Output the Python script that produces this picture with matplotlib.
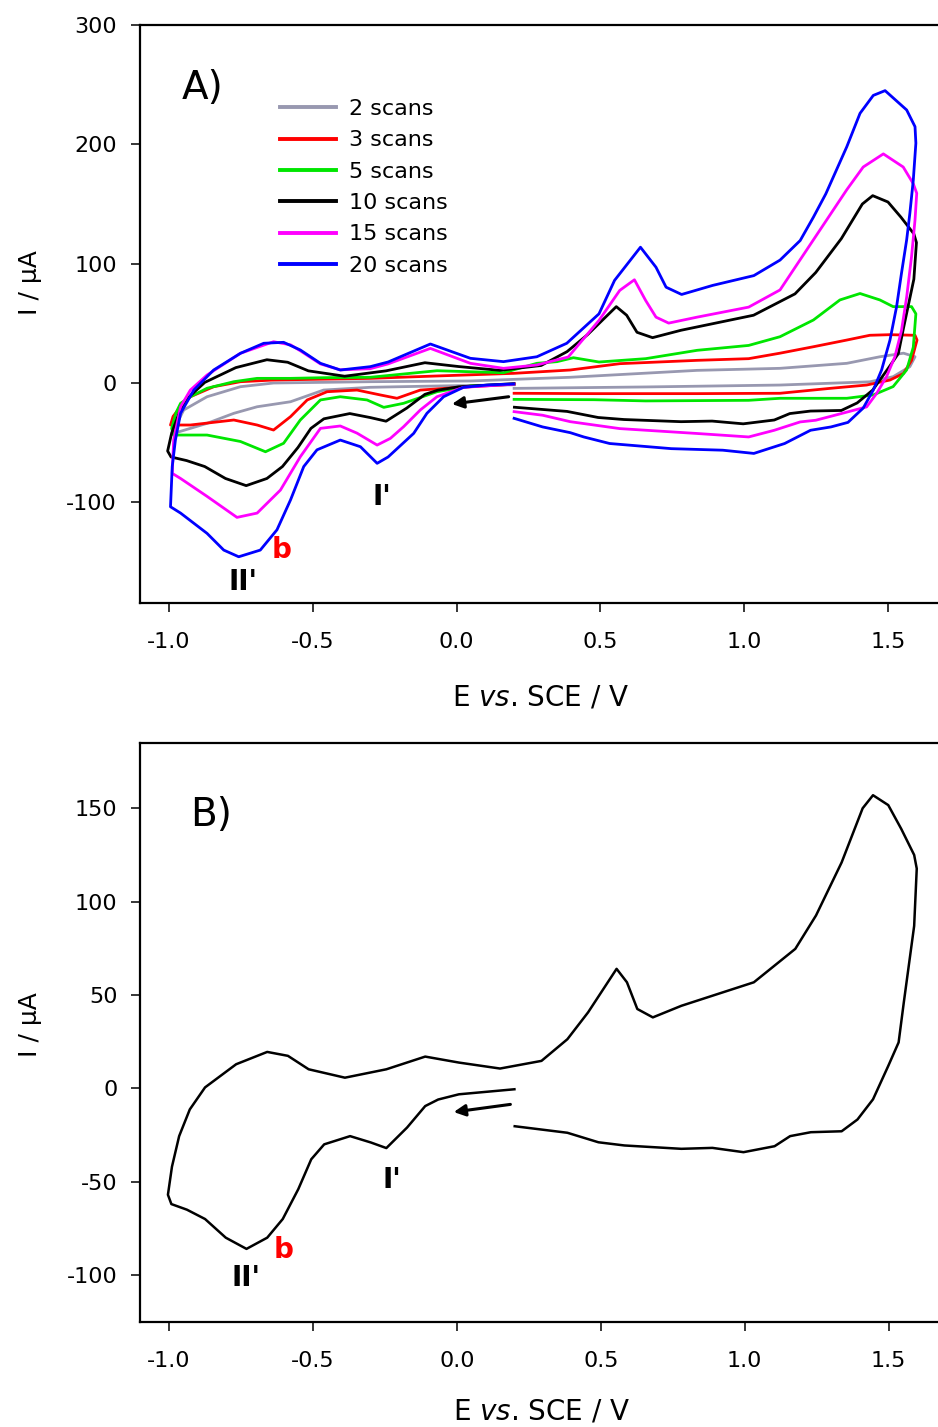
import matplotlib
matplotlib.use("Agg")
import matplotlib.pyplot as plt
from matplotlib.ticker import FormatStrFormatter

plt.rcParams["font.family"] = ["DejaVu Sans"]
plt.rcParams["axes.unicode_minus"] = False

# cyclic voltammograms, start at 0.2 V, scan towards -1.0 V, then to 1.6 V and back
e_2 = [0.2, -0.068, -0.3, -0.462, -0.577, -0.693, -0.774, -0.867, -0.983,
       -0.97, -0.948, -0.867, -0.751, -0.636, -0.3, 0.048, 0.395, 0.836, 1.124, 1.356, 1.471, 1.553, 1.593,
       1.575, 1.517, 1.436, 1.124, 0.657, 0.2]
i_2 = [-1.5, -2.5, -3.6, -5.9, -15.7, -19.9, -25.4, -33.8, -42.2,
       -33, -22.6, -11.5, -3.1, 0, 1.1, 1.7, 4.8, 10.6, 12.3, 16.5, 22, 25, 22,
       13.7, 5.3, 1, -1.7, -3.3, -4.5]

e_3 = [0.2, 0.013, -0.126, -0.207, -0.265, -0.346, -0.45, -0.519, -0.577, -0.636, -0.693, -0.774, -0.925, -0.994,
       -0.985, -0.959, -0.925, -0.844, -0.751, -0.636, -0.3, -0.068, 0.198, 0.395, 0.567, 0.836, 1.015, 1.124,
       1.24, 1.356, 1.436, 1.506, 1.593, 1.6,
       1.581, 1.553, 1.506, 1.425, 1.297, 1.124, 0.836, 0.478, 0.2]
i_3 = [-1, -3.6, -5.9, -12.8, -10, -5.9, -7.3, -14.2, -28.2, -39.4, -35.2, -31, -35.2, -35.2,
       -28, -19.9, -11.5, -3.1, 1.1, 2.5, 3.9, 5.9, 8.1, 10.9, 16.2, 19, 20.4, 25,
       30.4, 36, 40, 40.5, 40, 36,
       19, 8, 2.5, -1.7, -4.5, -8.6, -8.9, -8.9, -8.6]

e_5 = [0.2, 0.048, -0.068, -0.184, -0.253, -0.311, -0.404, -0.473, -0.543, -0.601, -0.664, -0.751, -0.867, -0.983,
       -0.99, -0.975, -0.959, -0.925, -0.867, -0.774, -0.693, -0.577, -0.453, -0.3, -0.068, 0.163, 0.279, 0.349,
       0.406, 0.495, 0.657, 0.836, 1.015, 1.124, 1.24, 1.332, 1.402, 1.471, 1.517, 1.581, 1.596,
       1.587, 1.564, 1.517, 1.448, 1.356, 1.124, 1.015, 0.657, 0.478, 0.2]
i_5 = [-1, -2.5, -7.3, -17, -20.4, -14.2, -11.5, -14.2, -31, -50.5, -57.6, -49, -43.6, -43.6,
       -38, -25, -17, -11.5, -4.4, 1.1, 3.9, 3.9, 4.5, 4.8, 10.3, 8.6, 16.5, 17.9,
       21.2, 17.6, 20.4, 27.4, 31.5, 38.8, 52.8, 69.6, 75, 69.6, 64, 64, 58,
       30, 11, -3, -10, -12.8, -12.8, -14.5, -15, -14, -13.7]

e_10 = [0.2, 0.007, -0.065, -0.11, -0.173, -0.245, -0.299, -0.371, -0.461, -0.506, -0.551, -0.605, -0.659,
        -0.731, -0.803, -0.875, -0.938, -0.992, -1.004,
        -0.99, -0.965, -0.928, -0.875, -0.767, -0.659, -0.587, -0.515, -0.389, -0.245, -0.11, 0.007, 0.15,
        0.294, 0.384, 0.456, 0.555, 0.591, 0.627, 0.681, 0.78, 0.924, 1.032, 1.176, 1.248, 1.337, 1.41,
        1.446, 1.499, 1.544, 1.589, 1.598,
        1.589, 1.553, 1.535, 1.499, 1.446, 1.392, 1.337, 1.23, 1.158, 1.104, 0.996, 0.888, 0.78, 0.582,
        0.492, 0.384, 0.201]
i_10 = [-0.5, -3.2, -6, -9.5, -21, -32, -29, -25.6, -30, -38, -54, -70, -80,
        -86, -80, -70, -65, -62, -57,
        -42, -25.6, -11.3, 0.5, 12.9, 19.5, 17.4, 10.2, 5.7, 10.2, 17, 13.8, 10.6,
        14.7, 26.3, 40.7, 64, 56.8, 42.5, 38, 44.2, 51.4, 56.8, 74.7, 92.6, 121, 150,
        157, 151.7, 139, 125, 117.7,
        87, 46, 24.6, 12, -5.9, -16.7, -23, -23.5, -25.6, -31, -34.2, -31.9, -32.4, -30.6,
        -28.9, -23.8, -20.3]

e_15 = [0.2, 0.024, -0.068, -0.126, -0.184, -0.23, -0.276, -0.346, -0.404, -0.473, -0.543, -0.612, -0.693,
        -0.763, -0.867, -0.959, -0.988,
        -0.983, -0.959, -0.925, -0.867, -0.751, -0.636, -0.577, -0.543, -0.473, -0.404, -0.3, -0.238, -0.091,
        0.048, 0.163, 0.279, 0.388, 0.495, 0.567, 0.618, 0.657, 0.693, 0.737, 0.836, 1.015, 1.124, 1.24,
        1.356, 1.413, 1.483, 1.552, 1.587, 1.599,
        1.593, 1.581, 1.564, 1.546, 1.523, 1.494, 1.46, 1.425, 1.337, 1.248, 1.194, 1.104, 1.015, 0.836,
        0.567, 0.395, 0.299, 0.2]
i_15 = [-1, -3.6, -11.5, -22.6, -36.6, -46.4, -52, -42, -36, -38, -61.8, -89.7, -109,
        -112.6, -95, -80, -75.7,
        -47.8, -19.9, -5.9, 6.7, 24.9, 34.6, 32, 27, 16, 11, 12, 16, 29,
        16.5, 12.3, 15.1, 21.8, 52.5, 77.6, 86.5, 69.2, 55.2, 50.2, 55.2, 63.6, 78, 120,
        162, 181, 192, 181, 167, 159,
        136.6, 106, 72, 44, 22, 5.3, -8.6, -20, -25.6, -31.2, -32.6, -39.6, -45.2, -42.3,
        -38.2, -32.4, -27, -24]

e_20 = [0.198, 0.106, 0.024, -0.045, -0.103, -0.149, -0.238, -0.276, -0.334, -0.404, -0.485, -0.531, -0.577,
        -0.624, -0.682, -0.757, -0.809, -0.867, -0.959, -0.994,
        -0.988, -0.977, -0.959, -0.913, -0.844, -0.751, -0.67, -0.601, -0.543, -0.473, -0.404, -0.3, -0.238,
        -0.091, 0.048, 0.163, 0.279, 0.383, 0.495, 0.549, 0.639, 0.693, 0.728, 0.782, 0.89, 1.033, 1.124,
        1.194, 1.24, 1.283, 1.356, 1.402, 1.448, 1.489, 1.564, 1.593, 1.596,
        1.587, 1.575, 1.564, 1.546, 1.529, 1.506, 1.477, 1.448, 1.413, 1.36, 1.301, 1.23, 1.14, 1.033,
        0.925, 0.746, 0.532, 0.442, 0.395, 0.299, 0.2]
i_20 = [-0.8, -1.7, -3.6, -11.5, -25.4, -42.2, -62, -67.3, -53.4, -47.8, -56, -70, -98,
        -123, -140, -145.6, -140, -126, -109, -103.7,
        -70, -47.8, -25.4, -5.9, 10.9, 24.9, 33.3, 34.1, 27.7, 16.5, 10.9, 13.7, 17.6,
        32.7, 20.7, 17.9, 22, 33.3, 58, 86, 113.8, 97, 80.3, 74.2, 81.8, 90, 103,
        119.4, 139, 158.5, 198, 226, 241, 245, 228.8, 214.8, 201,
        170, 142, 120, 92, 64, 36, 11, -5.9, -21, -33, -36.8, -39.6, -50.7, -59,
        -56.3, -55, -50.7, -45.2, -41.6, -36.8, -29.6]

labels = ["2 scans", "3 scans", "5 scans", "10 scans", "15 scans", "20 scans"]
colors = ["#9898b0", "#ff0000", "#00e600", "#000000", "#ff00ff", "#0000ff"]
curves_e = [e_2, e_3, e_5, e_10, e_15, e_20]
curves_i = [i_2, i_3, i_5, i_10, i_15, i_20]

# arrows showing scan direction (tail, head)
arrow_a = [(0.181, -11.5), (-0.016, -17.6)]
arrow_b = [(0.186, -8.6), (-0.011, -12.7)]

fig = plt.figure(figsize=(9.38, 14.27), dpi=100)
ax1 = fig.add_axes([0.14925, 0.57722, 0.87441, 0.40526])
ax2 = fig.add_axes([0.14957, 0.07379, 0.87441, 0.40532])


def style(ax):
    for sp in ax.spines.values():
        sp.set_linewidth(1.6)
    ax.tick_params(direction="out", length=6.5, width=1.1, labelsize=16)
    ax.tick_params(axis="x", pad=14.5)
    ax.tick_params(axis="y", pad=10)
    ax.set_xlim(-1.1, 1.75)
    ax.set_xticks([-1.0, -0.5, 0.0, 0.5, 1.0, 1.5])
    ax.xaxis.set_major_formatter(FormatStrFormatter("%.1f"))


# panel A
for e, i, c, lab in zip(curves_e, curves_i, colors, labels):
    ax1.plot(e, i, color=c, lw=2.0, label=lab)
style(ax1)
ax1.set_ylim(-184.6, 300)
ax1.set_yticks([-100, 0, 100, 200, 300])
leg = ax1.legend(loc="upper left", bbox_to_anchor=(279.5 / 938, 1 - 99 / 1427),
                 bbox_transform=fig.transFigure, frameon=False, fontsize=16,
                 handlelength=2.54, handletextpad=0.58, labelspacing=0.51,
                 borderpad=0, borderaxespad=0)
for ln in leg.get_lines():
    ln.set_linewidth(2.8)
ax1.annotate("", xy=arrow_a[1], xytext=arrow_a[0],
             arrowprops=dict(arrowstyle="-|>", color="k", lw=2.2, mutation_scale=17,
                             shrinkA=0, shrinkB=0))
ax1.text(-0.954, 237.8, "A)", fontsize=28, ha="left", va="baseline")
ax1.text(-0.26, -102, "I'", fontsize=20, fontweight="bold", ha="center", va="baseline")
ax1.text(-0.609, -146.9, "b", fontsize=20, fontweight="bold", color="#ff0000", ha="center", va="baseline")
ax1.text(-0.743, -173.5, "II'", fontsize=20, fontweight="bold", ha="center", va="baseline")

# panel B: 10 scans
ax2.plot(e_10, i_10, color="k", lw=1.8)
style(ax2)
ax2.set_ylim(-125, 184.8)
ax2.set_yticks([-100, -50, 0, 50, 100, 150])
ax2.annotate("", xy=arrow_b[1], xytext=arrow_b[0],
             arrowprops=dict(arrowstyle="-|>", color="k", lw=2.2, mutation_scale=17,
                             shrinkA=0, shrinkB=0))
ax2.text(-0.928, 140.5, "B)", fontsize=28, ha="left", va="baseline")
ax2.text(-0.227, -53.6, "I'", fontsize=20, fontweight="bold", ha="center", va="baseline")
ax2.text(-0.603, -91, "b", fontsize=20, fontweight="bold", color="#ff0000", ha="center", va="baseline")
ax2.text(-0.731, -106, "II'", fontsize=20, fontweight="bold", ha="center", va="baseline")

# axis labels
xlab = "E $\\mathit{vs}$. SCE / V"
fig.text(541 / 938, 1 - 705 / 1427, xlab, fontsize=20, ha="center", va="baseline")
fig.text(542 / 938, 1 - 1420 / 1427, xlab, fontsize=20, ha="center", va="baseline")
fig.text(30.5 / 938, 1 - 283 / 1427, "I / μA", fontsize=18, rotation=90, ha="center", va="center")
fig.text(30.5 / 938, 1 - 1025 / 1427, "I / μA", fontsize=18, rotation=90, ha="center", va="center")

fig.savefig("out.png", dpi=100)
